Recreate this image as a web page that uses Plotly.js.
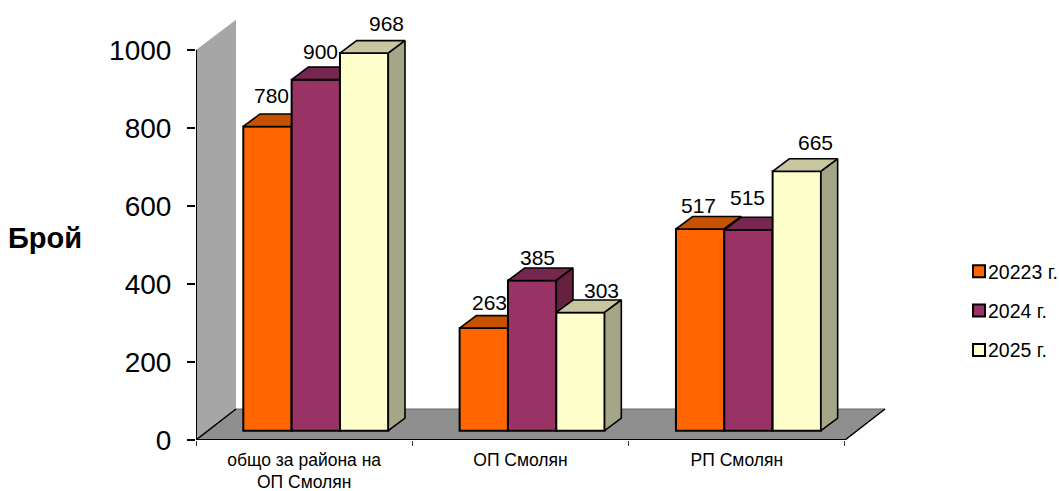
<!DOCTYPE html>
<html><head><meta charset="utf-8">
<script src="https://cdn.plot.ly/plotly-3.0.1.min.js"></script>
<style>html,body{margin:0;padding:0;background:#fff}</style></head>
<body><div id="chart" style="width:1059px;height:491px"></div>
<script>
const categories = ["общо за района на<br>ОП Смолян", "ОП Смолян", "РП Смолян"];
const seriesNames = ["20223 г.", "2024 г.", "2025 г."];
const values2023 = [780, 263, 517];
const values2024 = [900, 385, 515];
const values2025 = [968, 303, 665];
const yTicks = [0, 200, 400, 600, 800, 1000];
const frontColors = ["#ff6600", "#993366", "#ffffcc"];
const topColors = ["#c65200", "#76274f", "#c6c6a0"];
const sideColors = ["#a84300", "#66213f", "#a5a587"];
const labelShifts = [[4.5,-18],[5,-16],[22,-17],[6,-12.6],[5,-11],[21,-9],[-2,-11.5],[-1,-20],[19,-16]];

// geometry in axis units (216.33 px per category, 0.39 px per unit)
const xMax = 704/216.33, yMax = 430/0.39;
const floorDx = 40/216.33, floorDy = 31/0.39;
const barBase = 24, depthX = 16.7/216.33, depthY = 32;
const barW = 48.33/216.33, barStart = 47.3/216.33;
const edge = {color:"#000", width:1.6};
const all = [values2023, values2024, values2025];

const poly = (xs, ys, color, xa, ya, ln) => ({type:"scatter", mode:"lines", x:xs, y:ys, fill:"toself",
  fillcolor:color, line:ln||edge, xaxis:xa, yaxis:ya, showlegend:false, hoverinfo:"skip"});

const traces = [];
// wall and floor
traces.push(poly([0,floorDx,floorDx,0,0],[0,floorDy,1000+floorDy-2,1000,0],"#a6a6a6","x","y",{width:0,color:"#a6a6a6"}));
traces.push(poly([0,floorDx,3+floorDx,3,0],[0,floorDy,floorDy,0,0],"#8f8f8f","x","y",{width:1,color:"#666"}));
traces.push({type:"scatter",mode:"lines",x:[0,floorDx,null,3,3+floorDx],y:[0,floorDy,null,0,floorDy],
  line:{color:"#000",width:1.5},xaxis:"x",yaxis:"y",showlegend:false,hoverinfo:"skip"});
traces.push({type:"scatter",mode:"lines",x:[0,0,null,0,3],y:[0,1000,null,0,0],
  line:{color:"#000",width:2},xaxis:"x",yaxis:"y",showlegend:false,hoverinfo:"skip"});

all.forEach((vals, s) => {
  const xa = "x"+(s+2), ya = "y"+(s+2);
  const off = barStart + s*barW;
  traces.push({type:"bar", name:seriesNames[s], x:[0,1,2], y:vals, base:barBase, width:barW, offset:off,
    marker:{color:frontColors[s], line:{color:"#000",width:2}}, xaxis:xa, yaxis:ya, legendgroup:"g"+s, hoverinfo:"y"});
  vals.forEach((v, c) => {
    const l = c+off, r = l+barW, t = barBase+v, b = barBase;
    traces.push(poly([l,l+depthX,r+depthX,r,l],[t,t+depthY,t+depthY,t,t],topColors[s],xa,ya));
    traces.push(poly([r,r+depthX,r+depthX,r,r],[t,t+depthY,b+depthY,b,t],sideColors[s],xa,ya));
  });
});

const annotations = [];
all.forEach((vals, s) => vals.forEach((v, c) => {
  const sh = labelShifts[c*3+s];
  annotations.push({xref:"x",yref:"y",x:c+barStart+(s+0.5)*barW,y:barBase+v+depthY,text:String(v),showarrow:false,
    xanchor:"center",yanchor:"middle",xshift:sh[0],yshift:-sh[1],font:{size:21,color:"#000"}});
}));
annotations.push({xref:"paper",yref:"paper",x:-0.2699,y:0.47,xanchor:"left",yanchor:"middle",showarrow:false,text:"<b>Брой</b>",font:{size:29,color:"#000"}});

const hidden = n => ({overlaying:n,visible:false,fixedrange:true});
const layout = {
  width:1059,height:491,margin:{l:196,r:159,t:10,b:51,autoexpand:false},paper_bgcolor:"#fff",plot_bgcolor:"rgba(0,0,0,0)",
  font:{family:"Liberation Sans, Arial, sans-serif",color:"#000"},
  showlegend:true,
  legend:{x:1.0682,y:0.30,xanchor:"left",yanchor:"middle",traceorder:"grouped",tracegroupgap:11,font:{size:19.5},bgcolor:"rgba(0,0,0,0)"},
  annotations,
  xaxis:{range:[0,xMax],tickmode:"array",tickvals:[0.5,1.5,2.5],ticktext:categories,ticks:"",showgrid:false,zeroline:false,showline:false,
    tickfont:{size:17.5},ticklabelstandoff:7,fixedrange:true,minor:{tickmode:"array",tickvals:[0,1,2,3],ticks:"outside",ticklen:5,tickcolor:"#333",tickwidth:1,showgrid:false}},
  yaxis:{range:[0,yMax],tickmode:"array",tickvals:yTicks,ticks:"outside",ticklen:8,tickwidth:1.5,tickcolor:"#000",showgrid:false,zeroline:false,showline:false,
    tickfont:{size:28},ticklabelstandoff:10,fixedrange:true}
};
[2,3,4].forEach(i => {
  layout["xaxis"+i] = Object.assign(hidden("x"),{range:[0,xMax]});
  layout["yaxis"+i] = Object.assign(hidden("y"),{range:[0,yMax]});
});
Plotly.newPlot("chart",traces,layout,{displayModeBar:false,staticPlot:true}).then(() => {
  // sit the swatches right next to their labels, as in the reference legend
  document.querySelectorAll(".legend .legendsymbols").forEach(g => g.setAttribute("transform","translate(11,0)"));
});
</script></body></html>
